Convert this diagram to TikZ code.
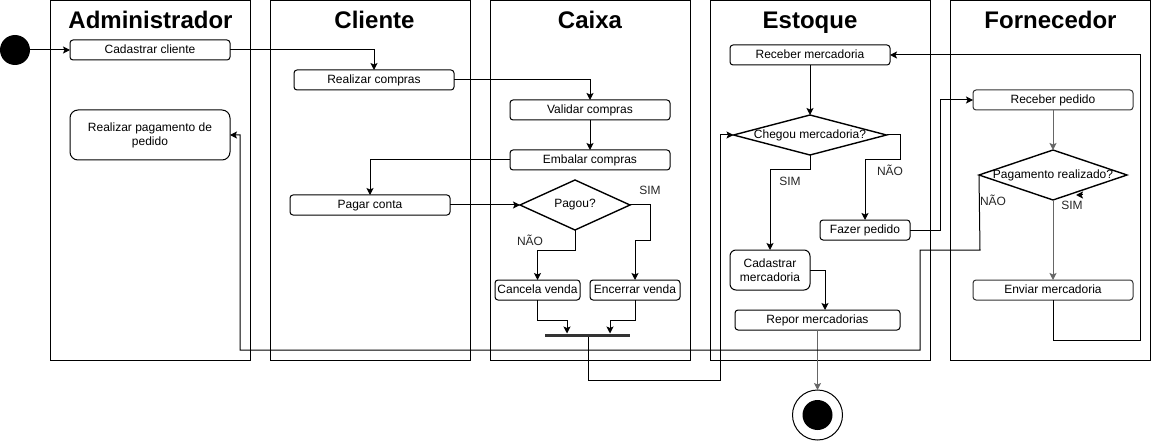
\documentclass[tikz,border=0pt]{standalone}
\usepackage{fontspec}
\setmainfont{Liberation Sans}
\usetikzlibrary{shapes.geometric,arrows.meta}
\definecolor{gline}{HTML}{666666}
\definecolor{barc}{HTML}{333333}
\begin{document}
\begin{tikzpicture}[x=1pt,y=-1pt,
  lane/.style={draw, line width=1pt, minimum width=200pt, minimum height=359.5pt, inner sep=0pt, outer sep=0pt, anchor=north west},
  lanetitle/.style={font=\fontsize{24}{28}\selectfont\bfseries, anchor=base, inner sep=0pt},
  box/.style={draw, rounded corners=3pt, line width=1pt, inner sep=0pt, outer sep=0pt, font=\fontsize{12}{14}\selectfont, text height=9pt, text depth=2.5pt},
  mbox/.style={draw, rounded corners=3pt, line width=1pt, inner sep=0pt, outer sep=0pt, font=\fontsize{12}{14}\selectfont, align=center},
  dec/.style={draw, diamond, line width=1.4pt, inner sep=0pt, outer sep=0pt},
  dtext/.style={font=\fontsize{12}{14}\selectfont, inner sep=0pt},
  lbl/.style={font=\fontsize{12}{14}\selectfont, inner sep=0pt, text=black!85},
  arr/.style={draw, line width=1pt, -{Stealth[length=7pt,width=7pt,inset=1.5pt]}},
  ln/.style={draw, line width=1pt}
]
\useasboundingbox (0,0) rectangle (1152,441);

% lanes
\node[lane] (lA) at (50,0.5) {};
\node[lane] (lC) at (270,0.5) {};
\node[lane] (lX) at (490,0.5) {};
\node[lane, minimum width=220pt] (lE) at (710,0.5) {};
\node[lane] (lF) at (950,0.5) {};
\node[lanetitle] (tA) at (150.5,29) {Administrador};
\node[lanetitle] (tC) at (374.5,29) {Cliente};
\node[lanetitle] (tX) at (590,29) {Caixa};
\node[lanetitle] (tE) at (810,29) {Estoque};
\node[lanetitle] (tF) at (1050.5,29) {Fornecedor};

% start / end
\node[circle, fill=black, minimum size=30pt, inner sep=0pt, outer sep=0pt] (start) at (15,50) {};
\node[circle, draw, line width=1pt, minimum size=50pt, inner sep=0pt, outer sep=0pt] (endc) at (817.5,415) {};
\node[circle, fill=black, minimum size=30pt, inner sep=0pt] (endi) at (817.5,415) {};

% Administrador
\node[box, minimum width=160pt, minimum height=20pt] (cc) at (150,50) {Cadastrar cliente};
\node[mbox, rounded corners=8pt, minimum width=160pt, minimum height=50pt] (rpp) at (150,135) {Realizar pagamento de\\pedido};

% Cliente
\node[box, minimum width=160pt, minimum height=20pt] (rc) at (374,80) {Realizar compras};
\node[box, minimum width=160pt, minimum height=20pt] (pc) at (370,205) {Pagar conta};

% Caixa
\node[box, minimum width=160pt, minimum height=20pt] (vc) at (590,110) {Validar compras};
\node[box, minimum width=160pt, minimum height=20pt] (ec) at (590,160) {Embalar compras};
\node[dec, minimum width=110pt, minimum height=50pt, label={[dtext]center:Pagou?}] (pag) at (575,205) {};
\node[box, minimum width=85pt, minimum height=20pt] (can) at (537.5,290) {Cancela venda};
\node[box, minimum width=90pt, minimum height=20pt] (enc) at (635,290) {Encerrar venda};
\node[fill=barc, minimum width=85pt, minimum height=3pt, inner sep=0pt, outer sep=0pt] (bar) at (587.5,335) {};

% Estoque
\node[box, minimum width=160pt, minimum height=20pt] (rm) at (810,55) {Receber mercadoria};
\node[dec, minimum width=153pt, minimum height=40pt, label={[dtext]center:Chegou mercadoria?}] (chg) at (810,135) {};
\node[box, minimum width=90pt, minimum height=20pt] (fp) at (865,230) {Fazer pedido};
\node[mbox, rounded corners=6pt, minimum width=80pt, minimum height=40pt] (cm) at (770,270) {Cadastrar\\mercadoria};
\node[box, minimum width=165pt, minimum height=20pt] (rep) at (817.5,320) {Repor mercadorias};

% Fornecedor
\node[box, draw=black!80, minimum width=160pt, minimum height=20pt] (rp) at (1053,100) {Receber pedido};
\node[dec, minimum width=148pt, minimum height=50pt, label={[dtext]center:Pagamento realizado?}] (pr) at (1053,175) {};
\node[box, draw=black!80, minimum width=160pt, minimum height=20pt] (em) at (1053,290) {Enviar mercadoria};

% labels
\node[lbl] (sim1) at (650,190) {SIM};
\node[lbl] (nao1) at (530,240) {NÃO};
\node[lbl] (sim2) at (790,181) {SIM};
\node[lbl] (nao2) at (890,170) {NÃO};
\node[lbl] (nao3) at (993,200) {NÃO};
\node[lbl] (sim3) at (1072,205) {SIM};

% connectors
\draw[arr] (start) -- (cc.west);
\draw[arr] (cc.east) -| (rc.north);
\draw[arr] (rc.east) -| (vc.north);
\draw[arr] (vc.south) -- (ec.north);
\draw[arr] (ec.west) -| (pc.north);
\draw[arr] (pc.east) -- (pag.west);
\draw[arr] (pag.east) -- (650,205) -- (650,240) -- (635,240) -- (enc.north);
\draw[arr] (pag.south) -- (575,250) -- (537.5,250) -- (can.north);
\draw[arr] (can.south) -- (537.5,320) -- (567,320) -- (567,333.5);
\draw[arr] (enc.south) -- (635,320) -- (610,320) -- (610,333.5);
\draw[arr] (bar.south -| 588.5,0) -- (588.5,380) -- (720,380) -- (720,135) -- (chg.west);
\draw[arr] (rm.south) -- (chg.north);
\draw[arr] (chg.east) -- (900,135) -- (900,160) -- (865,160) -- (fp.north);
\draw[arr] (chg.south) -- (810,170) -- (770,170) -- (cm.north);
\draw[arr] (cm.east) -- (825,270) -- (825,310);
\draw[arr, draw=gline] (rep.south) -- (endc.north);
\draw[arr] (fp.east) -- (940,230) -- (940,100) -- (rp.west);
\draw[arr, draw=gline] (rp.south) -- (pr.north);
\draw[arr, draw=gline] (pr.south) -- (em.north);
\draw[arr] (pr.west) -- (980,250) -- (920,250) -- (920,350) -- (240,350) -- (240,135) -- (rpp.east);
\draw[arr] (em.south) -- (1053,340) -- (1140,340) -- (1140,55) -- (rm.east);
\coordinate (stA) at (1083,195);
\coordinate (stB) at (1076,195);
\draw[arr] (stA) -- (stB);
\end{tikzpicture}
\end{document}
